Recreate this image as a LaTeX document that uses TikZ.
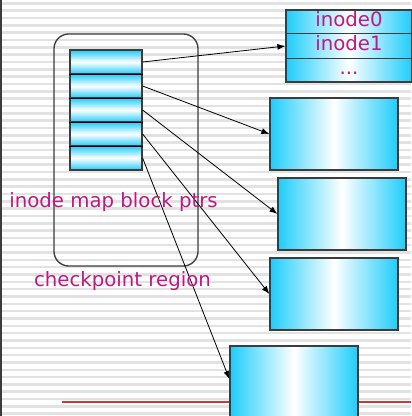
\documentclass[tikz,border=0pt]{standalone}
\usepackage{fontspec}
\setmainfont{DejaVu Sans}
\usetikzlibrary{arrows.meta,calc}
\definecolor{cy}{RGB}{30,205,250}
\definecolor{lbl}{RGB}{190,25,130}
\definecolor{stripe}{RGB}{226,226,226}
\definecolor{edge}{RGB}{60,60,60}
\definecolor{redline}{RGB}{205,55,60}
\tikzset{
  cellbox/.style={draw=edge, line width=0.9pt, inner sep=0pt, minimum width=54pt, minimum height=18pt,
    top color=cy, bottom color=cy, middle color=white},
  blockbox/.style={draw=edge, line width=0.9pt, inner sep=0pt, minimum width=96pt, minimum height=54pt,
    left color=cy, right color=cy, middle color=white},
  ptr/.style={-{Latex[length=6pt,width=4.5pt]}, line width=0.6pt, black},
  lab/.style={text=lbl, font=\fontsize{14.8pt}{17pt}\selectfont, inner sep=0pt},
  rowlab/.style={text=lbl, font=\fontsize{14.8pt}{17pt}\selectfont, inner sep=0pt, text height=10.5pt, text depth=3pt},
}
\begin{document}
\begin{tikzpicture}[x=0.75pt,y=-0.75pt]
\useasboundingbox (0,0) rectangle (411,416);
\fill[white] (0,0) rectangle (411,416);
\foreach \i in {0,...,57} \fill[stripe] (0,{2+7.33*\i}) rectangle (411,{4.6+7.33*\i});
\draw[edge, line width=1.1pt] (1,0) -- (1,416);
\draw[redline, line width=0.9pt] (62,402) -- (411,402);
% checkpoint region
\draw[edge, line width=1pt, rounded corners=11pt] (54,34) rectangle (198,266);
% cells
\foreach \k/\y in {1/62,2/86,3/110,4/134,5/158}
  \node[cellbox] (c\k) at (106,\y) {};
\foreach \k in {1,2,3,4}
  \draw[black, line width=1.1pt] (c\k.south west) -- (c\k.south east);
% blocks
\node[blockbox, minimum width=94.5pt] (b1) at (349,46) {};
\draw[edge, line width=0.9pt] ($(b1.north west)!1/3!(b1.south west)$) -- ($(b1.north east)!1/3!(b1.south east)$);
\draw[edge, line width=0.9pt] ($(b1.north west)!2/3!(b1.south west)$) -- ($(b1.north east)!2/3!(b1.south east)$);
\node[rowlab] (r0) at (349,22) {inode0};
\node[rowlab] (r1) at (349,46) {inode1};
\node[rowlab] (r2) at (349,70) {...};
\node[blockbox] (b2) at (334,134) {};
\node[blockbox] (b3) at (342,214) {};
\node[blockbox] (b4) at (334,294) {};
\node[blockbox] (b5) at (294,382) {};
% pointers
\draw[ptr] (c1.east) -- (b1.west);
\draw[ptr] (c2.east) -- (b2.west);
\draw[ptr] (c3.east) -- (b3.west);
\draw[ptr] (c4.east) -- (b4.west);
\draw[ptr] (c5.east) -- ([yshift=2.2pt]b5.west);
% labels
\node[lab, anchor=base] (t1) at (113.5,207) {inode map block ptrs};
\node[lab, anchor=base] (t2) at (122.5,286) {checkpoint region};
\end{tikzpicture}
\end{document}
